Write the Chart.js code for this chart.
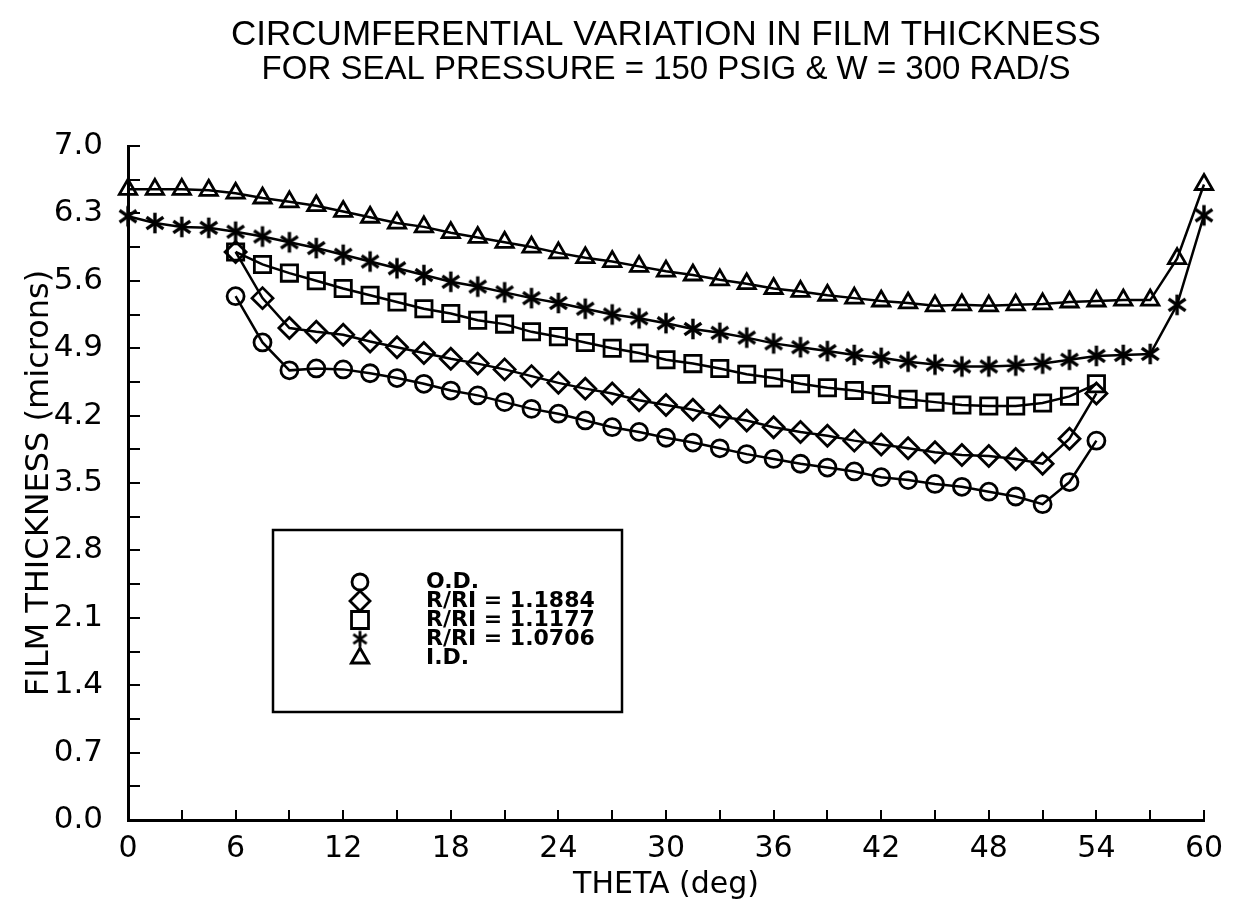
<!DOCTYPE html>
<html>
<head>
<meta charset="utf-8">
<title>Circumferential variation in film thickness</title>
<script src="https://cdn.jsdelivr.net/npm/chart.js@4.4.1/dist/chart.umd.min.js"></script>
<style>
  html, body { margin: 0; padding: 0; background: #fff; }
  #wrap { width: 1233px; height: 914px; }
</style>
</head>
<body>
<div id="wrap"><canvas id="chart" width="1233" height="914"></canvas></div>
<script>
// theta positions (deg)
var thetaFull = [0, 1.5, 3, 4.5, 6, 7.5, 9, 10.5, 12, 13.5, 15, 16.5, 18, 19.5, 21, 22.5,
  24, 25.5, 27, 28.5, 30, 31.5, 33, 34.5, 36, 37.5, 39, 40.5, 42, 43.5, 45, 46.5,
  48, 49.5, 51, 52.5, 54, 55.5, 57, 58.5, 60];
var thetaShort = [6, 7.5, 9, 10.5, 12, 13.5, 15, 16.5, 18, 19.5, 21, 22.5,
  24, 25.5, 27, 28.5, 30, 31.5, 33, 34.5, 36, 37.5, 39, 40.5, 42, 43.5, 45, 46.5,
  48, 49.5, 51, 52.5, 54];

// film thickness (microns)
var odValues = [5.44, 4.96, 4.67, 4.69, 4.68, 4.64, 4.59, 4.53, 4.46, 4.41, 4.34, 4.27,
  4.22, 4.15, 4.08, 4.03, 3.97, 3.92, 3.86, 3.80, 3.75, 3.70, 3.66, 3.62, 3.56, 3.53,
  3.49, 3.46, 3.41, 3.36, 3.28, 3.51, 3.94];
var r11884Values = [5.90, 5.42, 5.11, 5.07, 5.04, 4.97, 4.91, 4.85, 4.79, 4.74, 4.68, 4.61,
  4.54, 4.48, 4.43, 4.36, 4.31, 4.26, 4.19, 4.15, 4.08, 4.03, 3.99, 3.94, 3.90, 3.86,
  3.82, 3.79, 3.78, 3.75, 3.70, 3.96, 4.43];
var r11177Values = [5.90, 5.77, 5.68, 5.60, 5.52, 5.45, 5.38, 5.31, 5.26, 5.19, 5.15, 5.07,
  5.02, 4.96, 4.90, 4.85, 4.78, 4.74, 4.69, 4.63, 4.59, 4.53, 4.49, 4.46, 4.42, 4.37,
  4.34, 4.31, 4.30, 4.30, 4.33, 4.40, 4.53];
var r10706Values = [6.27, 6.20, 6.16, 6.15, 6.11, 6.06, 6.00, 5.94, 5.87, 5.80, 5.73, 5.66,
  5.59, 5.54, 5.48, 5.42, 5.37, 5.31, 5.25, 5.21, 5.16, 5.10, 5.06, 5.01, 4.95, 4.91,
  4.87, 4.83, 4.80, 4.76, 4.73, 4.71, 4.71, 4.72, 4.74, 4.78, 4.82, 4.83, 4.84, 5.35, 6.28];
var idValues = [6.55, 6.55, 6.55, 6.54, 6.51, 6.46, 6.42, 6.38, 6.32, 6.26, 6.20, 6.16,
  6.10, 6.05, 6.00, 5.95, 5.89, 5.84, 5.80, 5.75, 5.70, 5.66, 5.61, 5.57, 5.52, 5.49,
  5.45, 5.42, 5.39, 5.37, 5.34, 5.35, 5.34, 5.35, 5.36, 5.38, 5.39, 5.40, 5.40, 5.83, 6.60];

var seriesLabels = ["O.D.", "R/RI = 1.1884", "R/RI = 1.1177", "R/RI = 1.0706", "I.D."];

function pairs(xs, ys){
  return xs.map(function(x, i){ return {x: x, y: ys[i]}; });
}

// asterisk marker: vertical stroke plus an X
function makeStar(size, lw){
  var c = document.createElement("canvas");
  c.width = size; c.height = size;
  var g = c.getContext("2d");
  var m = size / 2, r = size / 2 - lw / 2;
  g.strokeStyle = "#000";
  g.lineWidth = lw;
  [90, 35, 145].forEach(function(a){
    var rad = a * Math.PI / 180;
    g.beginPath();
    g.moveTo(m - r * Math.cos(rad), m - r * Math.sin(rad));
    g.lineTo(m + r * Math.cos(rad), m + r * Math.sin(rad));
    g.stroke();
  });
  return c;
}

var starBig = makeStar(24, 3.4);
var starSmall = makeStar(19, 2.8);

function series(label, data, style, radius){
  return {
    label: label,
    data: data,
    borderColor: "#000",
    borderWidth: 2.5,
    tension: 0,
    fill: false,
    clip: false,
    pointStyle: style,
    pointRadius: radius,
    pointBorderWidth: 2.8,
    pointBorderColor: "#000",
    pointBackgroundColor: "rgba(0,0,0,0)"
  };
}

var legendRows = [
  {style: "circle", r: 8},
  {style: "rectRot", r: 10},
  {style: "rect", r: 12},
  {style: starSmall, r: 9},
  {style: "triangle", r: 10}
];

function drawSymbol(ctx, style, x, y, r){
  ctx.beginPath();
  if (style === "circle") {
    ctx.arc(x, y, r, 0, Math.PI * 2);
  } else if (style === "rectRot") {
    ctx.moveTo(x, y - r); ctx.lineTo(x + r, y); ctx.lineTo(x, y + r); ctx.lineTo(x - r, y); ctx.closePath();
  } else if (style === "rect") {
    var s = r * Math.SQRT1_2;
    ctx.rect(x - s, y - s, 2 * s, 2 * s);
  } else if (style === "triangle") {
    ctx.moveTo(x, y - r); ctx.lineTo(x + r * 0.866, y + r / 2); ctx.lineTo(x - r * 0.866, y + r / 2); ctx.closePath();
  } else {
    ctx.drawImage(style, x - style.width / 2, y - style.height / 2);
    return;
  }
  ctx.stroke();
}

// boxed legend inside the plot
var boxLegend = {
  id: "boxLegend",
  afterDraw: function(chart){
    var ctx = chart.ctx;
    ctx.save();
    ctx.strokeStyle = "#000";
    ctx.lineWidth = 2.5;
    ctx.strokeRect(273, 530, 349, 182);
    ctx.fillStyle = "#000";
    ctx.font = 'bold 22px "DejaVu Sans"';
    ctx.textBaseline = "middle";
    ctx.textAlign = "left";
    var rowY = [582, 601, 620, 639, 658];
    legendRows.forEach(function(row, i){
      ctx.lineWidth = 2.8;
      drawSymbol(ctx, row.style, 360, rowY[i], row.r);
      ctx.fillText(seriesLabels[i], 426, rowY[i]);
    });
    ctx.restore();
  }
};

new Chart(document.getElementById("chart"), {
  type: "line",
  data: {
    datasets: [
      series(seriesLabels[0], pairs(thetaShort, odValues), "circle", 8.5),
      series(seriesLabels[1], pairs(thetaShort, r11884Values), "rectRot", 10.5),
      series(seriesLabels[2], pairs(thetaShort, r11177Values), "rect", 11.5),
      series(seriesLabels[3], pairs(thetaFull, r10706Values), starBig, 10),
      series(seriesLabels[4], pairs(thetaFull, idValues), "triangle", 10)
    ]
  },
  options: {
    responsive: false,
    animation: false,
    events: [],
    layout: { padding: { left: 0, right: 29, top: 0, bottom: 0 } },
    plugins: {
      legend: { display: false },
      tooltip: { enabled: false },
      title: {
        display: true,
        fullSize: false,
        text: "CIRCUMFERENTIAL VARIATION IN FILM THICKNESS",
        color: "#000",
        font: { family: '"Liberation Sans", Arial, sans-serif', size: 35, weight: "normal", lineHeight: 1 },
        padding: { top: 18, bottom: 0 }
      },
      subtitle: {
        display: true,
        fullSize: false,
        text: "FOR SEAL PRESSURE = 150 PSIG & W = 300 RAD/S",
        color: "#000",
        font: { family: '"Liberation Sans", Arial, sans-serif', size: 33, weight: "normal", lineHeight: 1 },
        padding: { top: 0, bottom: 60 }
      }
    },
    scales: {
      x: {
        type: "linear",
        min: 0,
        max: 60,
        grid: { drawOnChartArea: false, drawTicks: true, tickLength: -10, color: "#000", lineWidth: 2 },
        border: { display: true, color: "#000", width: 3 },
        ticks: {
          stepSize: 3,
          autoSkip: false,
          maxRotation: 0,
          padding: 21,
          color: "#000",
          font: { family: '"DejaVu Sans", sans-serif', size: 30 },
          callback: function(v){ return v % 6 === 0 ? String(v) : ""; }
        },
        title: {
          display: true,
          text: "THETA (deg)",
          color: "#000",
          font: { family: '"DejaVu Sans", sans-serif', size: 30, lineHeight: 1 },
          padding: { top: 0, bottom: 14 }
        },
        afterFit: function(scale){
          scale.height = 94;
          scale.paddingLeft = 0;
          scale.paddingRight = 0;
        }
      },
      y: {
        type: "linear",
        min: 0,
        max: 7,
        grid: { drawOnChartArea: false, drawTicks: true, tickLength: -12, color: "#000", lineWidth: 2 },
        border: { display: true, color: "#000", width: 3 },
        ticks: {
          stepSize: 0.35,
          autoSkip: false,
          padding: 37,
          color: "#000",
          font: { family: '"DejaVu Sans", sans-serif', size: 31 },
          callback: function(v, i){ return i % 2 === 0 ? v.toFixed(1) : ""; }
        },
        title: {
          display: true,
          text: "FILM THICKNESS (microns)",
          color: "#000",
          font: { family: '"DejaVu Sans", sans-serif', size: 32, lineHeight: 1 },
          padding: { top: 24, bottom: 0 }
        },
        afterFit: function(scale){ scale.width = 128; }
      }
    }
  },
  plugins: [boxLegend]
});
</script>
</body>
</html>
